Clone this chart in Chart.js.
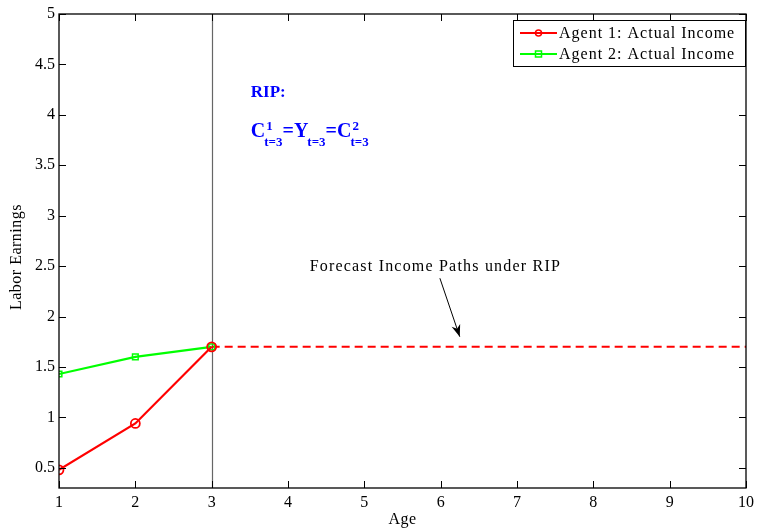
<!DOCTYPE html>
<html>
<head>
<meta charset="utf-8">
<script src="https://cdn.jsdelivr.net/npm/chart.js@4.4.1/dist/chart.umd.min.js"></script>
<style>
  html, body { margin: 0; padding: 0; background: #fff; }
  #wrap { width: 759px; height: 529px; }
</style>
</head>
<body>
<div id="wrap"><canvas id="c" width="759" height="529"></canvas></div>
<script>
// Labor earnings by age for two agents, with the forecast path under RIP
const ages = [1, 2, 3];
const agent1Income = [0.48, 0.94, 1.70];
const agent2Income = [1.43, 1.60, 1.70];
const forecastAges = [3, 4, 5, 6, 7, 8, 9, 10];
const forecastIncome = [1.70, 1.70, 1.70, 1.70, 1.70, 1.70, 1.70, 1.70];
const xTicks = [1, 2, 3, 4, 5, 6, 7, 8, 9, 10];
const yTicks = [0.5, 1, 1.5, 2, 2.5, 3, 3.5, 4, 4.5, 5];
const seriesNames = ['Agent 1: Actual Income', 'Agent 2: Actual Income'];
const retirementAge = 3;

const SERIF = '"Liberation Serif", "Times New Roman", serif';
const RED = '#ff0000', GREEN = '#00ff00', BLUE = '#0000ff';

const toPts = (xs, ys) => xs.map((x, i) => ({ x, y: ys[i] }));

// Box, inward ticks, reference line, legend, and text annotations
const decorations = {
  id: 'decorations',
  beforeDatasetsDraw(chart) {
    const { ctx, chartArea: a, scales: { x } } = chart;
    ctx.save();
    // vertical line at the age of the reveal
    const xr = Math.round(x.getPixelForValue(retirementAge)) + 0.5;
    ctx.strokeStyle = '#666';
    ctx.lineWidth = 1.2;
    ctx.beginPath();
    ctx.moveTo(xr, a.top);
    ctx.lineTo(xr, a.bottom);
    ctx.stroke();
    ctx.restore();
  },
  afterDatasetsDraw(chart) {
    const { ctx, chartArea: a, scales: { x, y } } = chart;
    ctx.save();
    // frame
    ctx.strokeStyle = '#000';
    ctx.lineWidth = 1.3;
    ctx.strokeRect(a.left, a.top, a.right - a.left, a.bottom - a.top);
    // inward ticks on all four sides
    const tl = 7;
    ctx.lineWidth = 1;
    ctx.beginPath();
    xTicks.forEach(v => {
      const px = Math.round(x.getPixelForValue(v)) + 0.5;
      ctx.moveTo(px, a.bottom); ctx.lineTo(px, a.bottom - tl);
      ctx.moveTo(px, a.top); ctx.lineTo(px, a.top + tl);
    });
    yTicks.forEach(v => {
      const py = Math.round(y.getPixelForValue(v)) + 0.5;
      ctx.moveTo(a.left, py); ctx.lineTo(a.left + tl, py);
      ctx.moveTo(a.right, py); ctx.lineTo(a.right - tl, py);
    });
    ctx.stroke();

    // axis titles
    ctx.fillStyle = '#000';
    ctx.font = '16px ' + SERIF;
    ctx.letterSpacing = '0.5px';
    ctx.textAlign = 'center';
    ctx.textBaseline = 'alphabetic';
    ctx.fillText('Age', (a.left + a.right) / 2, 524);
    ctx.save();
    ctx.translate(21, 257);
    ctx.rotate(-Math.PI / 2);
    ctx.fillText('Labor Earnings', 0, 0);
    ctx.restore();

    // legend
    const lx = 513, ly = 20, lw = 232, lh = 46;
    ctx.fillStyle = '#fff';
    ctx.fillRect(lx, ly, lw, lh);
    ctx.strokeStyle = '#000';
    ctx.lineWidth = 1;
    ctx.strokeRect(lx + 0.5, ly + 0.5, lw, lh);
    const rows = [
      { name: seriesNames[0], color: RED, marker: 'circle', yy: ly + 13 },
      { name: seriesNames[1], color: GREEN, marker: 'square', yy: ly + 34 }
    ];
    rows.forEach(r => {
      ctx.strokeStyle = r.color;
      ctx.lineWidth = 2;
      ctx.beginPath();
      ctx.moveTo(lx + 7, r.yy); ctx.lineTo(lx + 44, r.yy);
      ctx.stroke();
      ctx.lineWidth = 1.5;
      ctx.beginPath();
      if (r.marker === 'circle') {
        ctx.arc(lx + 25.5, r.yy, 3, 0, Math.PI * 2);
      } else {
        ctx.rect(lx + 22.5, r.yy - 3, 6, 6);
      }
      ctx.stroke();
      ctx.fillStyle = '#000';
      ctx.font = '16px ' + SERIF;
      ctx.letterSpacing = '1px';
      ctx.textAlign = 'left';
      ctx.textBaseline = 'middle';
      ctx.fillText(r.name, lx + 46, r.yy + 1);
    });

    // RIP annotation
    ctx.fillStyle = BLUE;
    ctx.letterSpacing = '0px';
    ctx.textAlign = 'left';
    ctx.textBaseline = 'alphabetic';
    const rx = x.getPixelForValue(3.5) + 1;
    ctx.font = 'bold 17px ' + SERIF;
    ctx.fillText('RIP:', rx, 97);
    const base = 137;
    let cx = rx;
    const big = 'bold 20px ' + SERIF, small = 'bold 13px ' + SERIF;
    const piece = (main, sup, sub) => {
      ctx.font = big;
      ctx.fillText(main, cx, base);
      cx += ctx.measureText(main).width;
      let w = 0;
      ctx.font = small;
      if (sup) { ctx.fillText(sup, cx + 1, base - 7); w = Math.max(w, ctx.measureText(sup).width + 1); }
      if (sub) { ctx.fillText(sub, cx - 1, base + 9); w = Math.max(w, ctx.measureText(sub).width - 1); }
      cx += w;
    };
    piece('C', '1', 't=3');
    piece('=Y', '', 't=3');
    piece('=C', '2', 't=3');

    // forecast label and arrow
    ctx.fillStyle = '#000';
    ctx.font = '16px ' + SERIF;
    ctx.letterSpacing = '1.2px';
    ctx.textAlign = 'center';
    ctx.fillText('Forecast Income Paths under RIP', x.getPixelForValue(5.93), y.getPixelForValue(2.5) + 5);
    ctx.letterSpacing = '0px';
    const x0 = x.getPixelForValue(5.99), y0 = y.getPixelForValue(2.38);
    const x1 = x.getPixelForValue(6.25), y1 = y.getPixelForValue(1.80);
    ctx.strokeStyle = '#000';
    ctx.lineWidth = 1;
    ctx.beginPath();
    ctx.moveTo(x0, y0); ctx.lineTo(x1, y1);
    ctx.stroke();
    const ang = Math.atan2(y1 - y0, x1 - x0);
    const hl = 12, hw = 4.5;
    ctx.beginPath();
    ctx.moveTo(x1, y1);
    ctx.lineTo(x1 - hl * Math.cos(ang) + hw * Math.sin(ang), y1 - hl * Math.sin(ang) - hw * Math.cos(ang));
    ctx.lineTo(x1 - hl * 0.7 * Math.cos(ang), y1 - hl * 0.7 * Math.sin(ang));
    ctx.lineTo(x1 - hl * Math.cos(ang) - hw * Math.sin(ang), y1 - hl * Math.sin(ang) + hw * Math.cos(ang));
    ctx.closePath();
    ctx.fill();
    ctx.restore();
  }
};

new Chart(document.getElementById('c'), {
  type: 'line',
  data: {
    datasets: [
      {
        label: 'Forecast',
        data: toPts(forecastAges, forecastIncome),
        borderColor: RED,
        borderWidth: 2,
        borderDash: [8, 5],
        pointRadius: 0,
        fill: false,
        order: 3
      },
      {
        label: seriesNames[1],
        data: toPts(ages, agent2Income),
        borderColor: GREEN,
        borderWidth: 2.2,
        pointStyle: 'rect',
        pointRadius: 4,
        pointBorderWidth: 1.5,
        pointBackgroundColor: 'rgba(0,0,0,0)',
        pointBorderColor: GREEN,
        fill: false,
        order: 2
      },
      {
        label: seriesNames[0],
        data: toPts(ages, agent1Income),
        borderColor: RED,
        borderWidth: 2.2,
        pointStyle: 'circle',
        pointRadius: 4.5,
        pointBorderWidth: 1.8,
        pointBackgroundColor: 'rgba(0,0,0,0)',
        pointBorderColor: RED,
        fill: false,
        order: 1
      }
    ]
  },
  options: {
    responsive: false,
    animation: false,
    events: [],
    layout: { padding: { top: 14, right: 11, left: 0, bottom: 0 } },
    plugins: { legend: { display: false }, tooltip: { enabled: false } },
    scales: {
      x: {
        type: 'linear',
        min: 1, max: 10,
        afterBuildTicks: s => { s.ticks = xTicks.map(v => ({ value: v })); },
        afterFit: s => { s.height = 41; },
        grid: { display: false, drawTicks: false },
        border: { display: false },
        ticks: { color: '#000', padding: 5, font: { family: SERIF, size: 16 }, maxRotation: 0,
                 callback: v => String(v) }
      },
      y: {
        type: 'linear',
        min: 0.3, max: 5,
        afterBuildTicks: s => { s.ticks = yTicks.map(v => ({ value: v })); },
        afterFit: s => { s.width = 59; },
        grid: { display: false, drawTicks: false },
        border: { display: false },
        ticks: { color: '#000', padding: 4, font: { family: SERIF, size: 16 },
                 callback: v => String(v) }
      }
    }
  },
  plugins: [decorations]
});
</script>
</body>
</html>
